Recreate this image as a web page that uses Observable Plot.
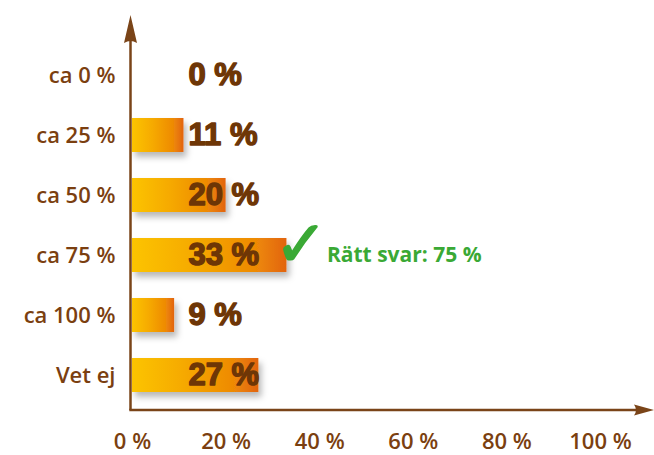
<!DOCTYPE html>
<html>
<head>
<meta charset="utf-8">
<script src="https://cdn.jsdelivr.net/npm/d3@7"></script>
<script src="https://cdn.jsdelivr.net/npm/@observablehq/plot@0.6"></script>
<style>
  html, body { margin: 0; padding: 0; background: #ffffff; }
</style>
</head>
<body>
<div id="chart"></div>
<script>
const categories = ["ca 0 %", "ca 25 %", "ca 50 %", "ca 75 %", "ca 100 %", "Vet ej"];
const values = [0, 11, 20, 33, 9, 27];
const xTicks = [0, 20, 40, 60, 80, 100];
const correctCategory = "ca 75 %";
const correctValue = 33;
const correctLabel = "Rätt svar: 75 %";

const data = categories.map((c, i) => ({cat: c, value: values[i]}));
const correct = [{cat: correctCategory, value: correctValue}];

const brown = "#7b3f10";
const darkBrown = "#6e3606";
const green = "#3aa935";
const marginLeft = 132, marginRight = 54, marginTop = 14, marginBottom = 45;
const W = 654, H = 455;

const chart = Plot.plot({
  width: W,
  height: H,
  marginLeft, marginRight, marginTop, marginBottom,
  style: {background: "white", color: brown, fontFamily: "'Open Sans', sans-serif", fontSize: "22px", fontWeight: 600},
  x: {domain: [0, 100], ticks: xTicks, tickFormat: d => d + " %", tickSize: 0, tickPadding: 23, label: null},
  y: {domain: categories, range: [44, 405], paddingInner: 0.435, paddingOuter: 0.216, align: 0.5, tickSize: 0, tickPadding: 17, label: null},
  marks: [
    Plot.barX(data, {x: "value", y: "cat", fill: "url(#barGrad)"}),
    Plot.text(data, {
      y: "cat", frameAnchor: "left", dx: 56, textAnchor: "start",
      text: d => d.value + " %",
      fontSize: 31, fontWeight: "bold", fontFamily: "'Liberation Sans', Arial, sans-serif",
      fill: darkBrown, stroke: darkBrown, strokeWidth: 1.4
    }),
    Plot.text(correct, {
      x: "value", y: "cat", text: () => "✓", dx: 14, dy: -10,
      fontSize: 64, fontFamily: "'DejaVu Sans', sans-serif", fill: green, stroke: green, strokeWidth: 1.5
    }),
    Plot.text(correct, {
      x: "value", y: "cat", text: () => correctLabel, dx: 40, textAnchor: "start",
      fontSize: 21, fontWeight: "bold", fontFamily: "'Open Sans', sans-serif", fill: green
    })
  ]
});

// defs: gradient and shadow
const svg = d3.select(chart);
const defs = svg.insert("defs", ":first-child");
const grad = defs.append("linearGradient").attr("id", "barGrad").attr("x1", "0").attr("x2", "1").attr("y1", "0").attr("y2", "0");
[["0%", "#fcc400"], ["40%", "#f6aa00"], ["80%", "#ee8a06"], ["100%", "#e2640f"]].forEach(([o, c]) =>
  grad.append("stop").attr("offset", o).attr("stop-color", c));
const f = defs.append("filter").attr("id", "shadow").attr("x", "-20%").attr("y", "-30%").attr("width", "150%").attr("height", "190%");
f.append("feDropShadow").attr("dx", 3).attr("dy", 5).attr("stdDeviation", 3).attr("flood-color", "#000").attr("flood-opacity", 0.28);
svg.selectAll("g[aria-label=bar] rect").attr("filter", "url(#shadow)");

// axis lines with arrowheads, placed from the plot's own x scale and frame
const x0 = chart.scale("x").apply(0) - 1.5;
const yBase = H - marginBottom;
const axes = svg.append("g").attr("fill", "#7a4418").attr("stroke", "#7a4418");
axes.append("line").attr("x1", x0).attr("x2", x0).attr("y1", yBase).attr("y2", marginTop + 20).attr("stroke-width", 2.5);
axes.append("line").attr("x1", x0 - 1.2).attr("x2", W - 15).attr("y1", yBase).attr("y2", yBase).attr("stroke-width", 2.5);
axes.append("path").attr("stroke", "none")
  .attr("d", `M${x0},${marginTop + 1} L${x0 + 6.5},${marginTop + 29} Q${x0},${marginTop + 25} ${x0 - 6.5},${marginTop + 29} Z`);
axes.append("path").attr("stroke", "none")
  .attr("d", `M${W},${yBase} L${W - 20},${yBase + 5.5} Q${W - 16},${yBase} ${W - 20},${yBase - 5.5} Z`);

document.getElementById("chart").appendChild(chart);
</script>
</body>
</html>
